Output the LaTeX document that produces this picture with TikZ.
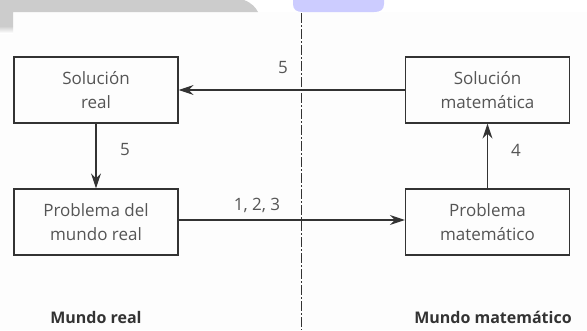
\documentclass[tikz,border=0pt]{standalone}
\usepackage{fontspec}
\setmainfont{Open Sans}
\usetikzlibrary{arrows.meta}
\definecolor{txt}{HTML}{555555}
\definecolor{ln}{HTML}{333333}
\definecolor{bar}{HTML}{CCCCCC}
\definecolor{blob}{HTML}{CCCCFF}
\definecolor{bg}{HTML}{FDFDFD}
\begin{document}
\begin{tikzpicture}[x=1pt,y=-1pt,
  box/.style={draw=ln,line width=1.2pt,minimum width=164pt,minimum height=66pt,inner sep=0pt,align=center,text=txt,font=\fontsize{17}{24}\selectfont},
  lbl/.style={text=txt,font=\fontsize{17}{20}\selectfont},
  world/.style={text=black!80,font=\bfseries\fontsize{16}{19}\selectfont},
  conn/.style={draw=ln,line width=1.2pt,-{Stealth[length=15pt,width=10pt,inset=5pt]}}]
\useasboundingbox (0,0) rectangle (587,330);
\fill[white] (0,0) rectangle (587,330);
\fill[bg] (0,12) rectangle (587,330);
% background artefacts
\fill[bar] (0,0) -- (244,0) .. controls (252,3) and (256,8) .. (258,12) -- (13,12) -- (13,26) -- (0,26) -- cycle;
\shade[top color=bar,bottom color=white] (0,26) rectangle (13,33);
\fill[blob] (293,0) -- (384,0) -- (384,4) .. controls (384,10) and (380,12) .. (374,12) -- (303,12) .. controls (297,12) and (293,10) .. (293,4) -- cycle;
% divider
\draw[ln,line width=1pt,dash pattern=on 10pt off 2pt on 2pt off 2pt] (301,13) -- (301,330);
% boxes
\node[box] (sr) at (96,90) {Solución\\real};
\node[box] (sm) at (487.5,90) {Solución\\matemática};
\node[box] (pr) at (96,222) {Problema del\\mundo real};
\node[box] (pm) at (487.5,222) {Problema\\matemático};
% connectors
\draw[conn] (sm.west) -- (sr.east);
\draw[conn] (sr.south) -- (pr.north);
\draw[conn] (pm.north) -- (sm.south);
\draw[conn] ([yshift=2pt]pr.east) -- ([yshift=2pt]pm.west);
% labels
\node[lbl] (l5a) at (283,68) {5};
\node[lbl] (l5b) at (125,150) {5};
\node[lbl] (l4) at (516,150) {4};
\node[lbl] (l123) at (257,205) {1, 2, 3};
\node[world] (wr) at (96,317) {Mundo real};
\node[world] (wm) at (493,317) {Mundo matemático};
\end{tikzpicture}
\end{document}
